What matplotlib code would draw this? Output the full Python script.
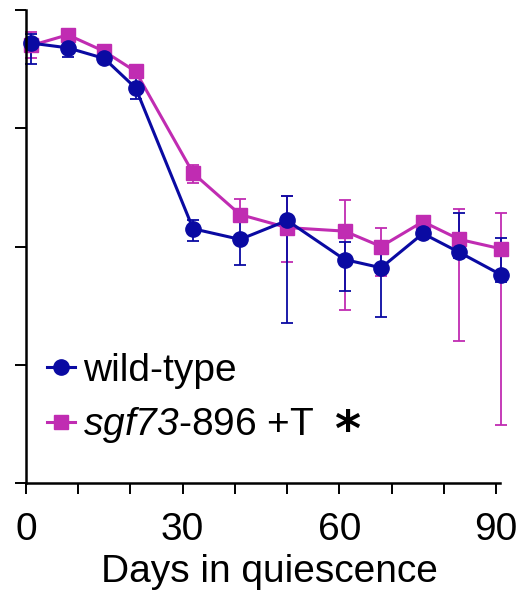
import matplotlib
matplotlib.use('Agg')
import matplotlib.pyplot as plt
from matplotlib.lines import Line2D

plt.rcParams['font.family'] = ['Liberation Sans', 'DejaVu Sans']
plt.rcParams['mathtext.fontset'] = 'custom'
plt.rcParams['mathtext.it'] = 'Liberation Sans:italic'
# digits inside math use the rm font; make the gene name italic throughout
plt.rcParams['mathtext.rm'] = 'Liberation Sans:italic'

# days in quiescence
days = [1, 8, 15, 21, 32, 41, 50, 61, 68, 76, 83, 91]

# wild-type: mean, top and bottom of error bar (log viability units)
wt = [3.72, 3.68, 3.59, 3.34, 2.15, 2.06, 2.22, 1.89, 1.82, 2.11, 1.95, 1.76]
wt_hi = [3.80, 3.76, 3.59, 3.43, 2.22, 2.22, 2.43, 2.04, 2.03, 2.11, 2.28, 2.07]
wt_lo = [3.54, 3.60, 3.59, 3.25, 2.05, 1.84, 1.35, 1.62, 1.40, 2.11, 1.90, 1.70]

# sgf73-896 +T
mut = [3.70, 3.79, 3.65, 3.48, 2.62, 2.27, 2.16, 2.13, 2.00, 2.21, 2.06, 1.98]
mut_hi = [3.81, 3.79, 3.65, 3.48, 2.69, 2.40, 2.43, 2.39, 2.16, 2.21, 2.32, 2.28]
mut_lo = [3.59, 3.79, 3.65, 3.48, 2.54, 2.21, 1.87, 1.46, 1.75, 2.21, 1.20, 0.49]

blue = '#0A0AA2'
magenta = '#C02CB2'

fig = plt.figure(figsize=(5.23, 5.93), dpi=100)
ax = fig.add_axes([26 / 523, 110 / 593, 474 / 523, 473 / 593])

err_mut = [[m - l for m, l in zip(mut, mut_lo)], [h - m for m, h in zip(mut, mut_hi)]]
err_wt = [[m - l for m, l in zip(wt, wt_lo)], [h - m for m, h in zip(wt, wt_hi)]]

ax.errorbar(days, mut, yerr=err_mut, fmt='-s', color=magenta, lw=2.2, ms=10.5,
            elinewidth=1.3, capsize=4.5, capthick=1.3)
ax.errorbar(days, wt, yerr=err_wt, fmt='-o', color=blue, lw=2.2, ms=11,
            elinewidth=1.3, capsize=4.5, capthick=1.3)

for art in ax.lines + ax.collections:
    art.set_clip_on(False)

ax.set_xlim(0, 474 / (470 / 90))
ax.set_ylim(0, 4)

for side in ['top', 'right']:
    ax.spines[side].set_visible(False)
for side in ['left', 'bottom']:
    ax.spines[side].set_linewidth(1.8)

ax.set_xticks(range(0, 91, 10))
ax.set_xticklabels(['0', '', '', '30', '', '', '60', '', '', '90'])
ax.set_yticks([0, 1, 2, 3, 4])
ax.set_yticklabels([])
ax.tick_params(length=8, width=1.4, labelsize=28, pad=13)
ax.set_xlabel('Days in quiescence', fontsize=28)
ax.xaxis.set_label_coords(0.513, -0.15)

handles = [
    Line2D([], [], color=blue, marker='o', lw=2.2, ms=11),
    Line2D([], [], color=magenta, marker='s', lw=2.2, ms=10.5),
]
labels = ['wild-type', r'$sgf73$-896 +T']
ax.legend(handles, labels, loc='upper left', bbox_to_anchor=(0.045, 0.275),
          frameon=False, fontsize=28, handlelength=0.72, handletextpad=0.2,
          labelspacing=0.42, borderpad=0, borderaxespad=0)

ax.text(0.677, 0.108, '*', transform=ax.transAxes, fontsize=36,
        fontweight='bold', ha='center', va='center', family='DejaVu Sans')

fig.savefig('out.png', dpi=100)
